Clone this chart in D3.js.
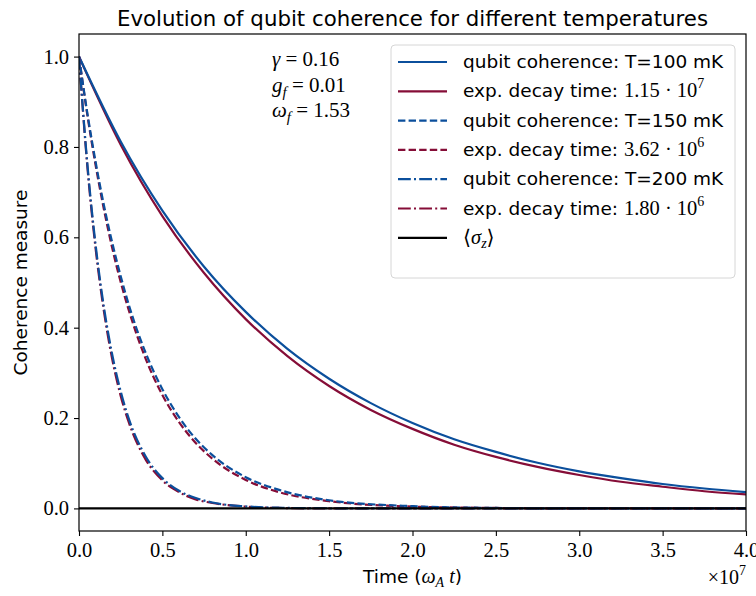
<!DOCTYPE html>
<html>
<head>
<meta charset="utf-8">
<script src="https://cdn.jsdelivr.net/npm/d3@7"></script>
<style>
  body { margin: 0; background: #fff; }
  .sans { font-family: "DejaVu Sans", sans-serif; }
  .serif { font-family: "Liberation Serif", "DejaVu Serif", serif; }
</style>
</head>
<body>
<svg id="chart" width="756" height="596"></svg>
<script>
'use strict';

// time samples, in units of 1e7 (omega_A t)
const tSlow = [0, 0.25, 0.5, 0.75, 1.0, 1.25, 1.5, 1.75, 2.0, 2.25, 2.5, 2.75, 3.0, 3.25, 3.5, 3.75, 4.0];
const tFast = [0, 0.05, 0.1, 0.15, 0.2, 0.25, 0.3, 0.4, 0.5, 0.6, 0.7, 0.8, 1.0, 1.2, 1.5, 2.0, 2.5, 3.0, 4.0];

// T = 100 mK
const coh100 = [1.000, 0.812, 0.659, 0.535, 0.435, 0.353, 0.287, 0.233, 0.189, 0.153, 0.125, 0.101, 0.082, 0.067, 0.054, 0.044, 0.036];
const fit100 = [1.000, 0.805, 0.647, 0.521, 0.419, 0.337, 0.271, 0.218, 0.176, 0.141, 0.114, 0.092, 0.074, 0.059, 0.048, 0.038, 0.031];
// T = 150 mK
const coh150 = [1.000, 0.875, 0.766, 0.670, 0.587, 0.514, 0.449, 0.344, 0.264, 0.202, 0.154, 0.118, 0.069, 0.041, 0.018, 0.005, 0.001, 0.000, 0.000];
const fit150 = [1.000, 0.871, 0.759, 0.661, 0.575, 0.501, 0.437, 0.331, 0.251, 0.191, 0.145, 0.110, 0.063, 0.036, 0.016, 0.004, 0.001, 0.000, 0.000];
// T = 200 mK
const coh200 = [1.000, 0.763, 0.582, 0.444, 0.339, 0.259, 0.197, 0.115, 0.067, 0.039, 0.023, 0.013, 0.0045, 0.0015, 0.0003, 0.000, 0.000, 0.000, 0.000];
const fit200 = [1.000, 0.757, 0.574, 0.435, 0.329, 0.249, 0.189, 0.108, 0.062, 0.036, 0.020, 0.012, 0.004, 0.001, 0.000, 0.000, 0.000, 0.000, 0.000];
// <sigma_z>
const tSigma = [0, 4.0];
const sigmaZ = [0, 0];

const xTicks = [0, 0.5, 1.0, 1.5, 2.0, 2.5, 3.0, 3.5, 4.0];
const yTicks = [0, 0.2, 0.4, 0.6, 0.8, 1.0];

const blue = '#0b4f9c';
const red = '#850d37';
const dashed = '7.4,3.2';
const dashdot = '12.8,3.2,2,3.2';

const margin = { left: 79, right: 10, top: 34, bottom: 65 };
const width = 756, height = 596;

const svg = d3.select('#chart');

const x = d3.scaleLinear().domain([0, 4.0]).range([margin.left, width - margin.right]);
const y = d3.scaleLinear().domain([-0.05, 1.05]).range([height - margin.bottom, margin.top]);

svg.append('defs').append('clipPath').attr('id', 'clip')
  .append('rect')
  .attr('x', x.range()[0]).attr('y', y.range()[1])
  .attr('width', x.range()[1] - x.range()[0])
  .attr('height', y.range()[0] - y.range()[1]);

const line = d3.line()
  .x(d => x(d[0]))
  .y(d => y(d[1]))
  .curve(d3.curveMonotoneX);

const series = [
  { t: tSlow, v: fit100, color: red, dash: null },
  { t: tSlow, v: coh100, color: blue, dash: null },
  { t: tFast, v: fit150, color: red, dash: dashed },
  { t: tFast, v: coh150, color: blue, dash: dashed },
  { t: tFast, v: fit200, color: red, dash: dashdot },
  { t: tFast, v: coh200, color: blue, dash: dashdot },
  { t: tSigma, v: sigmaZ, color: '#000', dash: null }
];

const plot = svg.append('g').attr('clip-path', 'url(#clip)');
series.forEach(s => {
  plot.append('path')
    .datum(s.t.map((t, i) => [t, s.v[i]]))
    .attr('d', line)
    .attr('fill', 'none')
    .attr('stroke', s.color)
    .attr('stroke-width', 2.2)
    .attr('stroke-dasharray', s.dash);
});

// axes
const xAxis = svg.append('g')
  .attr('transform', `translate(0,${y.range()[0]})`)
  .call(d3.axisBottom(x).tickValues(xTicks).tickFormat(d3.format('.1f')).tickSizeOuter(0).tickSize(5).tickPadding(6));
const yAxis = svg.append('g')
  .attr('transform', `translate(${x.range()[0]},0)`)
  .call(d3.axisLeft(y).tickValues(yTicks).tickFormat(d3.format('.1f')).tickSizeOuter(0).tickSize(5).tickPadding(5));

[xAxis, yAxis].forEach(a => {
  a.select('.domain').remove();
  a.selectAll('line').attr('stroke', '#000').attr('stroke-width', 1.1);
  a.selectAll('text').attr('class', 'serif').attr('font-size', 20.5).attr('fill', '#000');
});

// frame
svg.append('rect')
  .attr('x', x.range()[0]).attr('y', y.range()[1])
  .attr('width', x.range()[1] - x.range()[0])
  .attr('height', y.range()[0] - y.range()[1])
  .attr('fill', 'none').attr('stroke', '#000').attr('stroke-width', 1.2);

// title
svg.append('text')
  .attr('class', 'sans')
  .attr('x', (x.range()[0] + x.range()[1]) / 2).attr('y', 26)
  .attr('text-anchor', 'middle').attr('font-size', 21.3)
  .text('Evolution of qubit coherence for different temperatures');

// x label
const xl = svg.append('text')
  .attr('x', (x.range()[0] + x.range()[1]) / 2).attr('y', 583)
  .attr('text-anchor', 'middle').attr('font-size', 18.5);
xl.append('tspan').attr('class', 'sans').text('Time (');
xl.append('tspan').attr('class', 'serif').attr('font-style', 'italic').attr('font-size', 20).text('ω');
xl.append('tspan').attr('class', 'serif').attr('font-style', 'italic').attr('font-size', 14).attr('dy', 4).text('A');
xl.append('tspan').attr('class', 'serif').attr('font-style', 'italic').attr('font-size', 20).attr('dy', -4).text(' t');
xl.append('tspan').attr('class', 'sans').text(')');

// offset text
const off = svg.append('text').attr('class', 'serif')
  .attr('x', x.range()[1]).attr('y', 584)
  .attr('text-anchor', 'end').attr('font-size', 20);
off.append('tspan').text('×10');
off.append('tspan').attr('font-size', 14).attr('dy', -9).text('7');

// y label
svg.append('text')
  .attr('class', 'sans')
  .attr('transform', `translate(27,${(y.range()[0] + y.range()[1]) / 2}) rotate(-90)`)
  .attr('text-anchor', 'middle').attr('font-size', 18.5)
  .text('Coherence measure');

// parameter annotation
const params = [['γ', null, '0.16'], ['g', 'f', '0.01'], ['ω', 'f', '1.53']];
params.forEach((p, i) => {
  const t = svg.append('text').attr('class', 'serif')
    .attr('x', 272).attr('y', 66 + i * 25.5).attr('font-size', 21);
  t.append('tspan').attr('font-style', 'italic').text(p[0]);
  if (p[1]) {
    t.append('tspan').attr('font-style', 'italic').attr('font-size', 15).attr('dy', 5).text(p[1]);
    t.append('tspan').attr('dy', -5).text(' = ' + p[2]);
  } else {
    t.append('tspan').text(' = ' + p[2]);
  }
});

// legend
const legendItems = [
  { color: blue, dash: null, label: ['qubit coherence: T=100 mK'] },
  { color: red, dash: null, label: ['exp. decay time: ', '1.15 · 10', '7'] },
  { color: blue, dash: dashed, label: ['qubit coherence: T=150 mK'] },
  { color: red, dash: dashed, label: ['exp. decay time: ', '3.62 · 10', '6'] },
  { color: blue, dash: dashdot, label: ['qubit coherence: T=200 mK'] },
  { color: red, dash: dashdot, label: ['exp. decay time: ', '1.80 · 10', '6'] },
  { color: '#000', dash: null, label: null }
];

const lg = svg.append('g');
lg.append('rect')
  .attr('x', 391).attr('y', 45).attr('width', 344).attr('height', 233)
  .attr('rx', 4).attr('fill', '#fff').attr('fill-opacity', 0.8)
  .attr('stroke', '#d6d6d6').attr('stroke-width', 1);

legendItems.forEach((d, i) => {
  const cy = 62 + i * 29.3;
  lg.append('line')
    .attr('x1', 398).attr('x2', 447).attr('y1', cy).attr('y2', cy)
    .attr('stroke', d.color).attr('stroke-width', 2.2)
    .attr('stroke-dasharray', d.dash);
  const t = lg.append('text').attr('x', 463).attr('y', cy + 6).attr('font-size', 18.5);
  if (d.label === null) {
    t.attr('class', 'serif').attr('font-size', 20.5);
    t.append('tspan').text('⟨');
    t.append('tspan').attr('font-style', 'italic').text('σ');
    t.append('tspan').attr('font-style', 'italic').attr('font-size', 14).attr('dy', 4).text('z');
    t.append('tspan').attr('dy', -4).text('⟩');
  } else {
    t.append('tspan').attr('class', 'sans').text(d.label[0]);
    if (d.label.length > 1) {
      t.append('tspan').attr('class', 'serif').attr('font-size', 20.5).text(d.label[1]);
      t.append('tspan').attr('class', 'serif').attr('font-size', 14).attr('dy', -9).text(d.label[2]);
    }
  }
});
</script>
</body>
</html>
